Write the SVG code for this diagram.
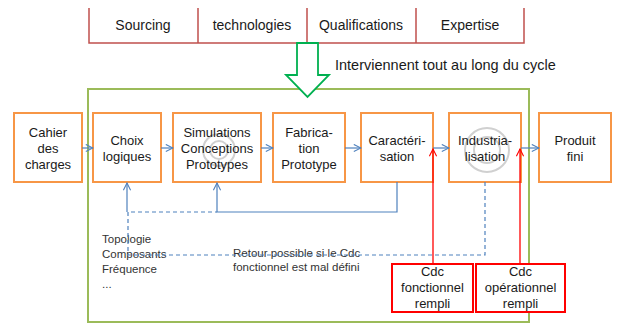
<svg xmlns="http://www.w3.org/2000/svg" width="618" height="324" viewBox="0 0 618 324">
<defs>
<marker id="ab" viewBox="0 0 10 10" refX="9" refY="5" markerWidth="9" markerHeight="9" markerUnits="userSpaceOnUse" orient="auto"><path d="M1,1 L9,5 L1,9" fill="none" stroke="#4f81bd" stroke-width="1.2"/></marker>
<marker id="ar" viewBox="0 0 10 10" refX="9" refY="5" markerWidth="9" markerHeight="9" markerUnits="userSpaceOnUse" orient="auto"><path d="M1,1 L9,5 L1,9" fill="none" stroke="#ff0000" stroke-width="1.2"/></marker>
</defs>
<style>
text{font-family:"Liberation Sans",Arial,sans-serif;fill:#1a1a1a;}
.top{font-size:14px;text-anchor:middle;}
.box{fill:#fff;stroke:#f79646;stroke-width:2;}
.bt{font-size:13px;text-anchor:middle;}
.red{fill:#fff;stroke:#ff0000;stroke-width:2;}
.sm{font-size:11.5px;fill:#333;}
.blue{fill:none;stroke:#4f81bd;stroke-width:1.2;}
.dash{fill:none;stroke:#4f81bd;stroke-width:1.2;stroke-dasharray:4,3;}
.rl{fill:none;stroke:#ff0000;stroke-width:1.3;}
.wm{fill:none;stroke:#d0d0d0;stroke-width:2;}
</style>
<rect width="618" height="324" fill="#fff"/>

<g id="table">
<path d="M89,8 V43 H524 V8 M198,8 V43 M307,8 V43 M416,8 V43" fill="none" stroke="#c0504d" stroke-width="1.5"/>
<text class="top" x="143" y="30">Sourcing</text>
<text class="top" x="252" y="30">technologies</text>
<text class="top" x="361" y="30">Qualifications</text>
<text class="top" x="470" y="30">Expertise</text>
</g>

<g id="cycle-frame">
<rect x="88" y="89" width="441" height="233" fill="none" stroke="#9bbb59" stroke-width="2"/>
</g>

<g id="green-arrow">
<path d="M297,43 H318 V75 H329 L307.5,97 L286,75 H297 Z" fill="#fff" stroke="#00b050" stroke-width="1.8"/>
<text x="335" y="70" style="font-size:14.5px">Interviennent tout au long du cycle</text>
</g>

<g id="cahier">
<rect class="box" x="14" y="113" width="68" height="69"/>
<text class="bt" x="48" y="137">Cahier</text>
<text class="bt" x="48" y="153">des</text>
<text class="bt" x="48" y="169">charges</text>
</g>
<g id="choix">
<rect class="box" x="93" y="113" width="68" height="69"/>
<text class="bt" x="127" y="145">Choix</text>
<text class="bt" x="127" y="161">logiques</text>
</g>
<g id="simulations">
<rect class="box" x="173" y="113" width="88" height="69"/>
<circle class="wm" cx="219" cy="150" r="16"/>
<circle class="wm" cx="219" cy="150" r="9"/>
<text class="bt" x="217" y="137">Simulations</text>
<text class="bt" x="217" y="153">Conceptions</text>
<text class="bt" x="217" y="169">Prototypes</text>
</g>
<g id="fabrication">
<rect class="box" x="273" y="113" width="72" height="69"/>
<text class="bt" x="309" y="137">Fabrica-</text>
<text class="bt" x="309" y="153">tion</text>
<text class="bt" x="309" y="169">Prototype</text>
</g>
<g id="caracterisation">
<rect class="box" x="361" y="113" width="72" height="69"/>
<text class="bt" x="397" y="145">Caractéri-</text>
<text class="bt" x="397" y="161">sation</text>
</g>
<g id="industrialisation">
<rect class="box" x="449" y="113" width="72" height="69"/>
<circle class="wm" cx="487" cy="150" r="22"/>
<circle class="wm" cx="487" cy="150" r="13"/>
<text class="bt" x="485" y="145">Industria-</text>
<text class="bt" x="485" y="161">lisation</text>
</g>
<g id="produit">
<rect class="box" x="539" y="113" width="72" height="69"/>
<text class="bt" x="575" y="145">Produit</text>
<text class="bt" x="575" y="161">fini</text>
</g>

<g id="notes">
<text class="sm" x="102" y="243">Topologie</text>
<text class="sm" x="102" y="258">Composants</text>
<text class="sm" x="102" y="273">Fréquence</text>
<text class="sm" x="102" y="288">...</text>
<text class="sm" x="233" y="257">Retour possible si le Cdc</text>
<text class="sm" x="233" y="271">fonctionnel est mal défini</text>
</g>

<g id="cdc-fonctionnel">
<rect class="red" x="392" y="264" width="81" height="48"/>
<text class="bt" x="432.5" y="276">Cdc</text>
<text class="bt" x="432.5" y="292">fonctionnel</text>
<text class="bt" x="432.5" y="308">rempli</text>
</g>
<g id="cdc-operationnel">
<rect class="red" x="476" y="264" width="89" height="48"/>
<text class="bt" x="520.5" y="276">Cdc</text>
<text class="bt" x="520.5" y="292">opérationnel</text>
<text class="bt" x="520.5" y="308">rempli</text>
</g>

<g id="connectors">
<line class="blue" x1="82" y1="148" x2="93" y2="148" marker-end="url(#ab)"/>
<line class="blue" x1="161" y1="148" x2="173" y2="148" marker-end="url(#ab)"/>
<line class="blue" x1="261" y1="148" x2="273" y2="148" marker-end="url(#ab)"/>
<line class="blue" x1="345" y1="148" x2="361" y2="148" marker-end="url(#ab)"/>
<line class="blue" x1="433" y1="148" x2="449" y2="148" marker-end="url(#ab)"/>
<line class="blue" x1="521" y1="148" x2="539" y2="148" marker-end="url(#ab)"/>
<path class="blue" d="M397,182 V212 H217 V183" marker-end="url(#ab)"/>
<path class="blue" d="M127,212 V183" marker-end="url(#ab)"/>
<path class="dash" d="M485,182 V255 H128 V212 H217"/>
<path class="rl" d="M433,263 V149" marker-end="url(#ar)"/>
<path class="rl" d="M520,263 V149" marker-end="url(#ar)"/>
</g>
</svg>
